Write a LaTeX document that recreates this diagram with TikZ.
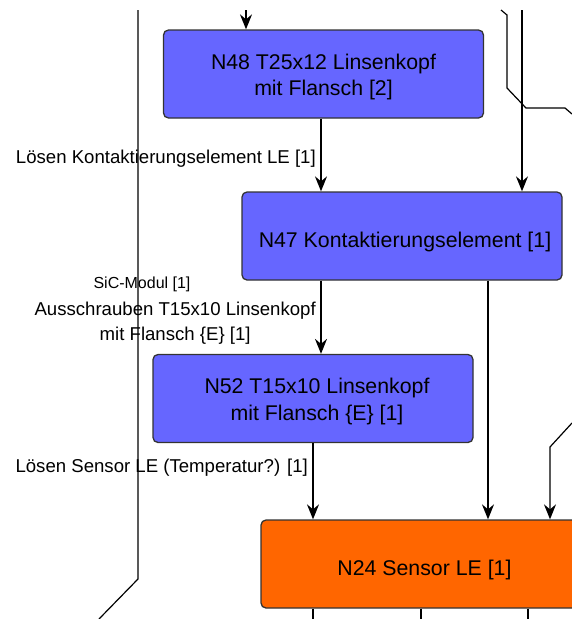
\documentclass[tikz,border=0pt]{standalone}
\usepackage{fontspec}
\setmainfont{Liberation Sans}
\usetikzlibrary{arrows.meta}
\definecolor{partblue}{HTML}{6666FF}
\definecolor{partorange}{HTML}{FF6600}
\definecolor{boxline}{HTML}{333333}
\begin{document}
\begin{tikzpicture}[x=1pt,y=-1pt,
  part/.style={draw=boxline, line width=1.3pt, rounded corners=5pt,
    minimum width=320pt, minimum height=88pt, align=center, inner sep=0pt,
    font=\fontsize{21.3}{26.5}\selectfont, text=black,
    execute at begin node={\rule{0pt}{27pt}}},
  blue part/.style={part, fill=partblue},
  final part/.style={part, fill=partorange},
  parttext/.style={inner sep=0pt, align=center, text=black,
    font=\fontsize{21.3}{26.5}\selectfont},
  flow/.style={line width=1.2pt, -{Stealth[length=15pt,width=12pt,inset=5pt]}},
  wire/.style={line width=1.2pt},
  edgelabel/.style={inner sep=0pt, font=\fontsize{18.6}{25}\selectfont, align=center},
  smalllabel/.style={inner sep=0pt, font=\fontsize{16}{19}\selectfont}]
\useasboundingbox (0,0) rectangle (572,619);
\clip (0,0) rectangle (572,619);

% pass-through wires
\coordinate (lw1) at (138,10);
\coordinate (lw2) at (138,579);
\coordinate (lw3) at (99,619);
\draw[wire] (lw1) -- (lw2) -- (lw3);
\coordinate (rw1) at (501,10);
\coordinate (rw2) at (507,15);
\coordinate (rw3) at (507,88);
\coordinate (rw4) at (526,108);
\coordinate (rw5) at (565,108);
\coordinate (rw6) at (572,114);
\draw[wire] (rw1) -- (rw2) -- (rw3) -- (rw4) -- (rw5) -- (rw6);

% parts
\node[blue part] (n48) at (323.5,74) {};
\node[parttext] (n48t) at (323.5,77) {N48 T25x12 Linsenkopf\\mit Flansch [2]};
\node[blue part] (n47) at (402,236) {\hspace*{6pt}N47 Kontaktierungselement [1]};
\node[blue part] (n52) at (313,398.5) {};
\node[parttext] (n52t) at (317,401.5) {N52 T15x10 Linsenkopf\\mit Flansch \{E\} [1]};
\node[final part, minimum width=327pt] (n24) at (424.5,564) {N24 Sensor LE [1]};

% connectors
\coordinate (top48) at (246,10);
\draw[flow] (top48) -- (top48 |- n48.north);
\coordinate (x321) at (321,0);
\draw[flow] (x321 |- n48.south) -- (x321 |- n47.north);
\coordinate (top47) at (522,10);
\draw[flow] (top47) -- (top47 |- n47.north);
\draw[flow] (x321 |- n47.south) -- (x321 |- n52.north);
\coordinate (x488) at (488,0);
\draw[flow] (x488 |- n47.south) -- (x488 |- n24.north);
\draw[flow] (n52.south) -- (n52.south |- n24.north);
\coordinate (side24) at (572,423);
\coordinate (bend24) at (550,447);
\draw[flow] (side24) -- (bend24) -- (bend24 |- n24.north);
\coordinate (out1) at (313,619);
\coordinate (out2) at (421,619);
\coordinate (out3) at (528,619);
\draw[wire] (out1 |- n24.south) -- (out1);
\draw[wire] (out2 |- n24.south) -- (out2);
\draw[wire] (out3 |- n24.south) -- (out3);

% connector labels
\node[edgelabel, anchor=east] (l1) at (316,159) {Lösen Kontaktierungselement LE [1]};
\node[smalllabel] (l2) at (142,284) {SiC-Modul [1]};
\node[edgelabel, anchor=east] (l3) at (316,323.5) {Ausschrauben T15x10 Linsenkopf\\mit Flansch \{E\} [1]};
\node[edgelabel, anchor=east] (l4) at (308,468) {Lösen Sensor LE (Temperatur?) [1]};
\end{tikzpicture}
\end{document}
